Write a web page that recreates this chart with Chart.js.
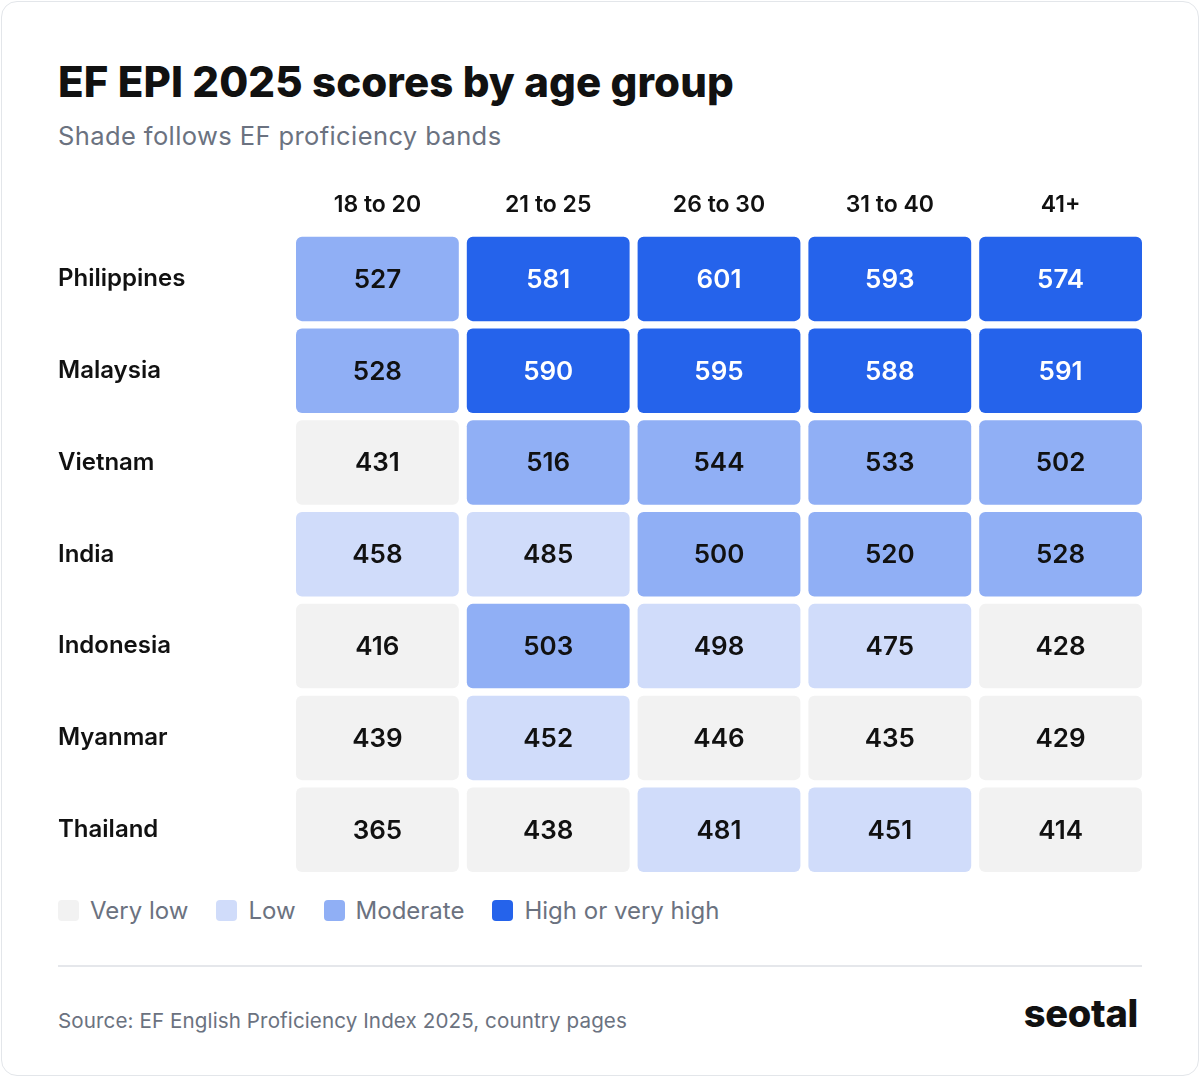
<!DOCTYPE html>
<html lang="en">
<head>
  <meta charset="UTF-8">
  <title>EF EPI 2025 scores by age group</title>
  <script src="https://cdn.jsdelivr.net/npm/chart.js"></script>
  <style>
    body { margin: 0; background: #fff; font-family: Inter, sans-serif; }
    .card { position: absolute; left: 1px; top: 1px; width: 1196px; height: 1073px; border: 1px solid #e3e6ea; border-radius: 16px; }
    h1 { position: absolute; left: 58px; top: 56px; margin: 0; font-size: 42px; font-weight: 800; color: #111; letter-spacing: 0.1px; }
    .sub { position: absolute; left: 58px; top: 120px; font-size: 25.5px; color: #6b7280; letter-spacing: 0.4px; }
    #wrap { position: absolute; left: 58px; top: 177px; width: 1084px; height: 716px; }
    .legend { position: absolute; left: 58px; top: 896px; display: flex; gap: 28px; font-size: 24px; color: #6b7280; }
    .legend span { display: inline-flex; align-items: center; gap: 11px; }
    .legend i { width: 21px; height: 21px; border-radius: 4px; display: inline-block; }
    .rule { position: absolute; left: 58px; width: 1084px; top: 965px; border-top: 2px solid #e5e7eb; }
    .src { position: absolute; left: 58px; top: 1008px; font-size: 20.6px; color: #6b7280; letter-spacing: 0.1px; }
    .logo { position: absolute; right: 62px; top: 990px; font-size: 38px; font-weight: 800; color: #111; letter-spacing: -0.3px; }
  </style>
</head>
<body>
  <div class="card"></div>
  <h1>EF EPI 2025 scores by age group</h1>
  <div class="sub">Shade follows EF proficiency bands</div>
  <div id="wrap"><canvas id="heat"></canvas></div>
  <div class="legend">
    <span><i style="background:#f2f2f2"></i>Very low</span>
    <span><i style="background:#d0dcfa"></i>Low</span>
    <span><i style="background:#90aff5"></i>Moderate</span>
    <span><i style="background:#2563eb"></i>High or very high</span>
  </div>
  <div class="rule"></div>
  <div class="src">Source: EF English Proficiency Index 2025, country pages</div>
  <div class="logo">seotal</div>

  <script>
    const countries = ['Philippines', 'Malaysia', 'Vietnam', 'India', 'Indonesia', 'Myanmar', 'Thailand'];
    const ageGroups = ['18 to 20', '21 to 25', '26 to 30', '31 to 40', '41+'];
    // scores per age group, in country order
    const age18to20 = [527, 528, 431, 458, 416, 439, 365];
    const age21to25 = [581, 590, 516, 485, 503, 452, 438];
    const age26to30 = [601, 595, 544, 500, 498, 446, 481];
    const age31to40 = [593, 588, 533, 520, 475, 435, 451];
    const age41plus = [574, 591, 502, 528, 428, 429, 414];
    const columns = [age18to20, age21to25, age26to30, age31to40, age41plus];

    const CELL = 163 / 171; // cell width in column units

    function bandColor(v) {
      if (v >= 550) return '#2563eb';
      if (v >= 500) return '#90aff5';
      if (v >= 450) return '#d0dcfa';
      return '#f2f2f2';
    }

    const datasets = columns.map((vals, j) => ({
      label: ageGroups[j],
      data: vals.map(() => [j, j + CELL]),
      scores: vals,
      backgroundColor: vals.map(bandColor),
      borderRadius: 6,
      borderSkipped: false,
      barPercentage: 0.92,
      categoryPercentage: 1,
      grouped: false
    }));

    const cellText = {
      id: 'cellText',
      afterDatasetsDraw(chart) {
        const ctx = chart.ctx;
        ctx.save();
        ctx.font = '600 26px Inter';
        ctx.textAlign = 'center';
        ctx.textBaseline = 'middle';
        chart.data.datasets.forEach((ds, j) => {
          chart.getDatasetMeta(j).data.forEach((bar, i) => {
            const v = ds.scores[i];
            ctx.fillStyle = v >= 550 ? '#fff' : '#111';
            ctx.fillText(v, (bar.x + bar.base) / 2, bar.y + 1);
          });
        });
        ctx.restore();
      }
    };

    new Chart(document.getElementById('heat'), {
      type: 'bar',
      data: { labels: countries, datasets },
      options: {
        indexAxis: 'y',
        responsive: true,
        maintainAspectRatio: false,
        animation: false,
        layout: { padding: 0 },
        plugins: { legend: { display: false }, tooltip: { enabled: false } },
        scales: {
          x: {
            type: 'linear', position: 'top', min: 0, max: 4 + CELL,
            grid: { display: false }, border: { display: false },
            afterBuildTicks: s => { s.ticks = ageGroups.map((_, j) => ({ value: j + CELL / 2 })); },
            afterFit: s => { s.height = 56; },
            ticks: {
              callback: (v) => ageGroups[Math.round(v - CELL / 2)],
              font: { family: 'Inter', size: 23, weight: '600' }, color: '#111',
              maxRotation: 0, autoSkip: false, padding: 6
            }
          },
          y: {
            grid: { display: false }, border: { display: false },
            afterFit: s => { s.width = 238; },
            ticks: {
              crossAlign: 'far',
              font: { family: 'Inter', size: 24, weight: '600' }, color: '#111'
            }
          }
        }
      },
      plugins: [cellText]
    });
  </script>
</body>
</html>
